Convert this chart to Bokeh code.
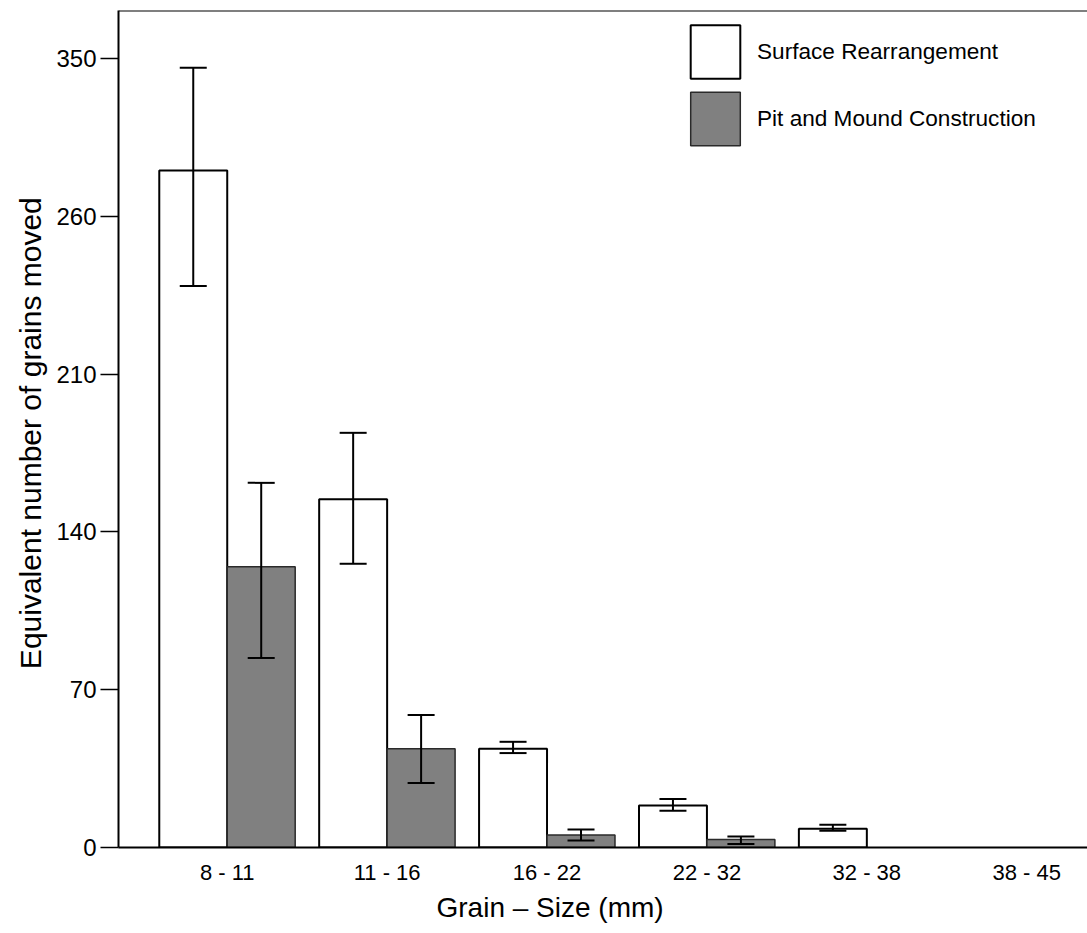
import numpy as np
from bokeh.plotting import figure
from bokeh.models import (ColumnDataSource, FixedTicker, Whisker, TeeHead,
                          Legend, LegendItem, Span, Range1d, Title)
from bokeh.embed import file_html
from bokeh.resources import INLINE

# Grain-size classes (mm)
categories = ["8 - 11", "11 - 16", "16 - 22", "22 - 32", "32 - 38", "38 - 45"]

# Surface rearrangement: mean and error-bar limits
surface = [300.4, 154.5, 43.8, 18.6, 8.3, 0.0]
surface_lo = [249.2, 125.9, 41.9, 16.3, 7.4, 0.0]
surface_hi = [346.0, 184.0, 46.9, 21.5, 10.1, 0.0]

# Pit and mound construction: mean and error-bar limits
pit = [124.6, 43.8, 5.6, 3.6, 0.0, 0.0]
pit_lo = [84.1, 28.6, 3.1, 1.5, 0.0, 0.0]
pit_hi = [161.8, 58.8, 8.0, 4.9, 0.0, 0.0]

# Y-axis ticks and the labels printed at them
ytick_values = [0, 70, 140, 210, 280, 350]
ytick_labels = ["0", "70", "140", "210", "260", "350"]

FONT = "Liberation Sans"
BAR_W = 0.425
Y_END = 371.4

idx = np.arange(len(categories))

def series_source(vals, offset):
    keep = [i for i in range(len(vals)) if vals[i] > 0]
    return ColumnDataSource(dict(x=[idx[i] + offset for i in keep],
                                 top=[vals[i] for i in keep]))

def whisker_source(lo, hi, offset):
    keep = [i for i in range(len(lo)) if hi[i] > lo[i]]
    return ColumnDataSource(dict(
        x=[idx[i] + offset for i in keep],
        lo=[lo[i] for i in keep],
        hi=[hi[i] for i in keep]))

p = figure(width=1087, height=933, output_backend="svg", toolbar_location=None,
           x_range=Range1d(-0.68, 5.38), y_range=Range1d(0, Y_END),
           min_border_left=118, min_border_right=0, min_border_top=10,
           min_border_bottom=86)
p.outline_line_color = None
p.grid.visible = False
p.background_fill_color = "white"

r_s = p.vbar(x="x", top="top", bottom=0, width=BAR_W,
             source=series_source(surface, -BAR_W / 2),
             fill_color="white", line_color="black", line_width=2)
r_p = p.vbar(x="x", top="top", bottom=0, width=BAR_W,
             source=series_source(pit, BAR_W / 2),
             fill_color="#808080", line_color="#2a2a2a", line_width=1.5)

for lo, hi, off in [(surface_lo, surface_hi, -BAR_W / 2),
                    (pit_lo, pit_hi, BAR_W / 2)]:
    w = Whisker(base="x", lower="lo", upper="hi",
                source=whisker_source(lo, hi, off),
                line_color="black", line_width=2, level="overlay",
                upper_head=TeeHead(size=27, line_width=2, line_color="black"),
                lower_head=TeeHead(size=27, line_width=2, line_color="black"))
    p.add_layout(w)

# top border of the plotting area
p.add_layout(Span(location=Y_END, dimension="width", line_color="black",
                  line_width=2))

# x axis
xa = p.xaxis[0]
xa.ticker = FixedTicker(ticks=list(idx))
xa.major_label_overrides = {int(i): c for i, c in zip(idx, categories)}
xa.major_tick_out = 0
xa.major_tick_in = 0
xa.minor_tick_line_color = None
xa.axis_line_width = 2
xa.major_label_text_font = FONT
xa.major_label_text_font_size = "22px"
xa.major_label_text_color = "black"
xa.major_label_standoff = 12

# x axis title, set below the tick labels
p.add_layout(Title(text="Grain \u2013 Size (mm)", align="left", offset=318,
                   text_font=FONT, text_font_size="28px",
                   text_font_style="normal", text_color="black",
                   standoff=4), "below")

# y axis
ya = p.yaxis[0]
ya.ticker = FixedTicker(ticks=ytick_values)
ya.major_label_overrides = {v: t for v, t in zip(ytick_values, ytick_labels)}
ya.major_tick_out = 18
ya.major_tick_in = 0
ya.major_tick_line_width = 1.5
ya.minor_tick_line_color = None
ya.axis_line_width = 2
ya.major_label_text_font = FONT
ya.major_label_text_font_size = "24px"
ya.major_label_text_color = "black"
ya.major_label_standoff = 4
ya.axis_label = "Equivalent  number of grains moved"
ya.axis_label_text_font = FONT
ya.axis_label_text_font_size = "30px"
ya.axis_label_text_font_style = "normal"
ya.axis_label_text_color = "black"
ya.axis_label_standoff = 6

legend = Legend(items=[LegendItem(label="Surface Rearrangement", renderers=[r_s]),
                       LegendItem(label="Pit and Mound Construction", renderers=[r_p])],
                location=(566, 695), glyph_width=62, glyph_height=67, spacing=0,
                padding=0, margin=0, border_line_color=None,
                background_fill_alpha=0, label_standoff=11,
                label_text_font=FONT, label_text_font_size="22.6px",
                label_text_color="black")
p.add_layout(legend)

open("out.html", "w").write(file_html(p, INLINE))
